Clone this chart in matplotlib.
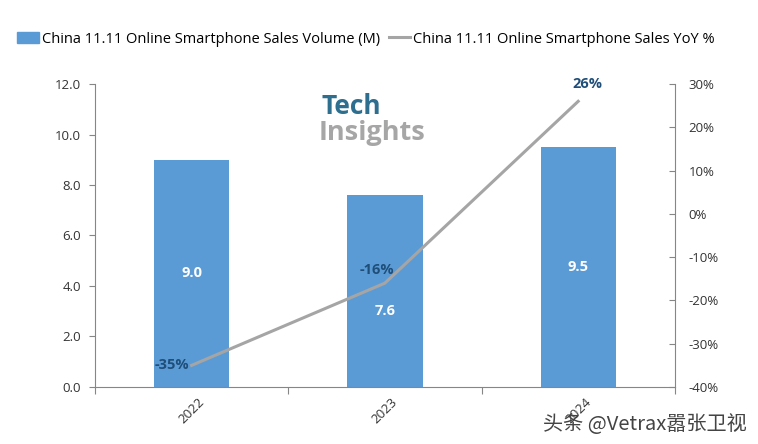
import matplotlib
matplotlib.use("Agg")
import matplotlib.pyplot as plt
from matplotlib.patches import Patch
from matplotlib.lines import Line2D

years = ["2022", "2023", "2024"]
volume = [9.0, 7.6, 9.5]
yoy = [-35, -16, 26]
left_ticks = [0, 2, 4, 6, 8, 10, 12]
right_ticks = [-40, -30, -20, -10, 0, 10, 20, 30]

plt.rcParams['font.family'] = ['Open Sans', 'DejaVu Sans']

fig = plt.figure(figsize=(7.58, 4.44), dpi=100)
ax = fig.add_axes([0.1253, 0.1284, 0.765, 0.6824])
x = list(range(len(years)))
bar_color = "#5B9BD5"
line_color = "#A5A5A5"
lab_color = "#1F4E79"
axis_color = "#868686"

bars = ax.bar(x, volume, width=0.39, color=bar_color, zorder=2)
ax.set_xlim(-0.5, 2.5)
ax.set_ylim(0, 12)
ax.set_yticks(left_ticks)
ax.set_yticklabels([f"{v:.1f}" for v in left_ticks], fontsize=9.5, color="#333333")
ax.set_xticks([-0.5, 0.5, 1.5, 2.5], minor=False)
ax.set_xticklabels([])
ax.set_xticks(x, minor=True)
ax.set_xticklabels(years, minor=True, rotation=45, fontsize=9.5, color="#333333")
ax.tick_params(axis='x', which='minor', length=0, pad=6)
ax.tick_params(axis='x', which='major', length=5, color=axis_color, direction='out')
ax.tick_params(axis='y', length=4, color=axis_color, direction='out', pad=6)
ax.spines['top'].set_visible(False)
ax.spines['right'].set_visible(False)
for s in ['left', 'bottom']:
    ax.spines[s].set_color(axis_color)

ax2 = ax.twinx()
ax2.plot(x, yoy, color=line_color, lw=2.2, zorder=3)
ax2.set_ylim(-40, 30)
ax2.set_yticks(right_ticks)
ax2.set_yticklabels([f"{v}%" for v in right_ticks], fontsize=9.5, color="#333333")
ax2.tick_params(axis='y', length=4, color=axis_color, direction='in', pad=10)
for s in ['top', 'left', 'bottom']:
    ax2.spines[s].set_visible(False)
ax2.spines['right'].set_color(axis_color)

# bar value labels
bar_label_y = [4.5, 3.0, 4.75]
for i, v in enumerate(volume):
    ax.text(x[i], bar_label_y[i], f"{v:.1f}", ha='center', va='center',
            color='white', fontsize=10.5, fontweight='bold', zorder=4)

# yoy labels
yoy_off = [(-0.1, 0.0), (-0.04, 3.0), (0.05, 4.0)]
for i, v in enumerate(yoy):
    dx, dy = yoy_off[i]
    ax2.text(x[i] + dx, v + dy, f"{v}%", ha='center', va='center',
             color=lab_color, fontsize=10.5, fontweight='bold', zorder=5)

# logo
fig.text(0.424, 1 - 106 / 444, "Tech", fontsize=19, fontweight='bold', color="#2E6E8E", ha='left', va='center')
fig.text(0.421, 1 - 133 / 444, "Insights", fontsize=19.5, fontweight='bold', color="#A6A6A6", ha='left', va='center')

# legend
handles = [Patch(color=bar_color, label="China 11.11 Online Smartphone Sales Volume (M)"),
           Line2D([0], [0], color=line_color, lw=2.2, label="China 11.11 Online Smartphone Sales YoY %")]
fig.legend(handles=handles, loc='center left', bbox_to_anchor=(0.005, 0.912), ncol=2,
           frameon=False, fontsize=10.5, handlelength=1.5, handletextpad=0.2, columnspacing=0.6)

# watermark
fig.text(0.985, 0.045, "头条 @Vetrax嚣张卫视", fontsize=14.5, color="#444444", ha='right', va='center',
         family=['Noto Sans CJK SC', 'DejaVu Sans'])

fig.savefig("out.png", dpi=100)
